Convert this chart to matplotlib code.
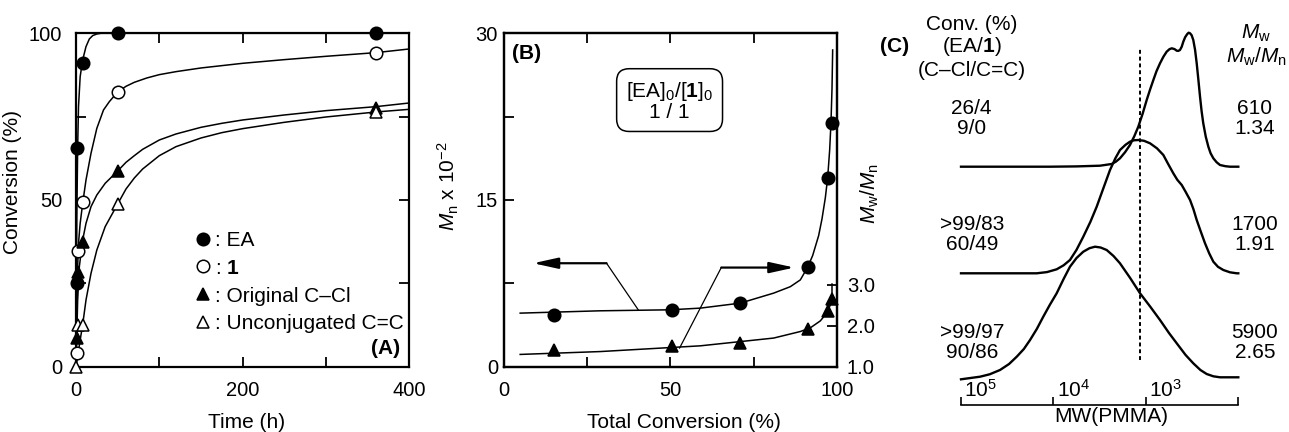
import matplotlib
matplotlib.use("Agg")
import matplotlib.pyplot as plt

plt.rcParams['font.family'] = ['Liberation Sans', 'DejaVu Sans']
plt.rcParams['font.size'] = 15
plt.rcParams['mathtext.fontset'] = 'custom'
plt.rcParams['mathtext.rm'] = 'Liberation Sans'
plt.rcParams['mathtext.it'] = 'Liberation Sans:italic'
plt.rcParams['mathtext.bf'] = 'Liberation Sans:bold'

# ---- panel A: conversion vs time ----
time_ea = [1, 1, 9, 50, 360]
conv_ea = [25, 65.5, 91, 100, 100]
time_1 = [1, 2, 9, 50, 360]
conv_1 = [4, 34.7, 49.5, 82.4, 94.2]
time_ccl = [1, 2, 9, 50, 360]
conv_ccl = [8.7, 28.5, 37.5, 58.7, 77.5]
time_cc = [0, 2, 9, 50, 360]
conv_cc = [0, 12.6, 12.6, 48.8, 76.3]

# fitted lines drawn through the points
fit_t_ea = [0, 0.5, 1, 2, 3, 5, 8, 12, 16, 20, 25, 30, 400]
fit_ea = [0, 25, 45, 66, 78, 87, 92, 96, 98.3, 99.3, 99.8, 100, 100]
fit_t_1 = [0, 1, 2, 3, 5, 8, 12, 18, 25, 33, 40, 50, 60, 70, 85, 100, 120, 150, 175, 200, 250, 300, 360, 400]
fit_1 = [0, 15, 30, 37, 43, 49, 56, 64, 71.5, 77, 79.5, 82.4, 84.1, 85.3, 86.6, 87.6, 88.5, 89.6, 90.3,
         91.0, 92.1, 93.1, 94.2, 95.3]
fit_t_ccl = [0, 1, 2, 4, 8, 12, 18, 25, 35, 50, 60, 70, 80, 100, 120, 150, 175, 200, 250, 300, 360, 400]
fit_ccl = [0, 10, 20, 30, 38, 43, 48, 51.5, 55, 58.7, 61.3, 63.3, 65.2, 68.0, 69.8, 71.8, 73.0, 74.0,
           75.5, 76.8, 78.0, 79.1]
fit_t_cc = [0, 2, 5, 8, 12, 18, 25, 35, 50, 60, 70, 80, 100, 120, 150, 175, 200, 250, 300, 360, 400]
fit_cc = [0, 3, 8, 12.6, 20, 28, 35, 42, 48.8, 53.3, 56.6, 59.3, 63.3, 66.0, 68.6, 70.2, 71.4, 73.3,
          74.9, 76.4, 77.2]

# ---- panel B: Mn and Mw/Mn vs total conversion ----
conv_b = [15, 50.5, 71, 91.2, 97.2, 98.5]
mn_b = [4.67, 5.12, 5.72, 8.95, 16.95, 21.95]
pdi_b = [1.40, 1.50, 1.58, 1.92, 2.35, 2.65]
fit_conv_mn = [5, 29, 50, 59, 71, 81, 86, 89, 91.2, 92.7, 94.5, 95.5, 96.5, 97.2, 97.8, 98.2, 98.5, 98.7]
fit_mn = [4.82, 5.03, 5.12, 5.27, 5.72, 6.62, 7.2, 7.81, 8.95, 10.0, 11.8, 13.3, 15.2, 17.0, 19.5, 22.0, 25.0, 28.5]
fit_conv_pdi = [5, 29, 59, 81, 89, 92, 95, 97, 98.2, 98.5, 98.5]
fit_pdi = [1.30, 1.37, 1.51, 1.70, 1.86, 1.95, 2.12, 2.32, 2.55, 2.65, 3.02]

# ---- panel C: SEC curves (log MW, height above baseline) ----
sec1_logmw = [5.0, 4.037, 3.75, 3.496, 3.370, 3.325, 3.280, 3.225, 3.172, 3.125, 3.082, 3.035, 2.991,
              2.955, 2.919, 2.885, 2.847, 2.81, 2.775, 2.745, 2.720, 2.69, 2.666, 2.65, 2.631, 2.612,
              2.595, 2.575, 2.552, 2.537, 2.522, 2.505, 2.487, 2.468, 2.450, 2.432, 2.414, 2.397,
              2.379, 2.352, 2.324, 2.30, 2.270, 2.235, 2.198, 2.14, 2.089, 2.0]
sec1_h = [0, 0, 0.3, 1, 2.7, 5, 8.4, 14.5, 21.7, 30.5, 40, 53, 66.7,
          77, 86.7, 95.5, 103.4, 110, 115, 117.5, 118.4, 117.6, 116, 115.8, 116.7, 120,
          125, 129.5, 132.7, 134, 133.4, 131.5, 126.7, 117, 103.4, 87, 70, 55.5,
          43.4, 30, 20, 13.5, 8.4, 4.5, 1.7, 0.5, 0, 0]
sec2_logmw = [5.0, 4.181, 4.07, 3.965, 3.89, 3.821, 3.75, 3.677, 3.60, 3.532, 3.46, 3.388, 3.33, 3.280,
              3.22, 3.172, 3.13, 3.082, 3.02, 2.955, 2.88, 2.811, 2.76, 2.703, 2.66, 2.612, 2.57,
              2.522, 2.485, 2.450, 2.405, 2.360, 2.315, 2.270, 2.22, 2.162, 2.09, 2.017, 2.0]
sec2_h = [0, 0, 1.2, 4, 8, 13.3, 23.5, 36.6, 51.5, 66.6, 85, 103.3, 115, 123.3,
          128.5, 131.6, 133, 133.3, 132.5, 130, 125, 118.3, 109.5, 100, 93.5, 88.3, 81.5,
          73.3, 64, 53.3, 41.5, 30, 20, 11.6, 6.5, 3.3, 1, 0, 0]
sec3_logmw = [5.0, 4.794, 4.69, 4.578, 4.48, 4.397, 4.32, 4.253, 4.18, 4.110, 4.04, 3.965, 3.89, 3.821,
              3.75, 3.677, 3.61, 3.550, 3.49, 3.424, 3.35, 3.280, 3.17, 3.063, 2.95, 2.847, 2.75,
              2.666, 2.57, 2.487, 2.41, 2.342, 2.27, 2.198, 2.0]
sec3_h = [-1.8, 0.8, 3.2, 7.5, 13.5, 20.8, 28.5, 37.5, 48.5, 60.8, 72.5, 84.2, 98.5, 110.8,
          119.5, 125.8, 129.3, 130.8, 130.0, 127.5, 121.5, 114.2, 99.5, 84.2, 70.5, 57.5, 44.5,
          34.2, 22.5, 14.2, 7.5, 3.5, 1.2, 0.2, 0.2]
conv_labels = [["26/4", "9/0"], [">99/83", "60/49"], [">99/97", "90/86"]]
mw_labels = [["610", "1.34"], ["1700", "1.91"], ["5900", "2.65"]]

W, H = 1289, 432
fig = plt.figure(figsize=(W / 100, H / 100), dpi=100)


def rect(l, t, r, b):
    return [l / W, (H - b) / H, (r - l) / W, (b - t) / H]


def ftext(x, y, s, **kw):
    fig.text(x / W, 1 - y / H, s, ha='center', va='center', **kw)


tick_kw = dict(direction='in', length=7, width=1.3, labelsize=14.5)
mk = dict(ms=9, mec='black', mew=1.1, ls='none', clip_on=False, zorder=5)

# ---------- (A) ----------
ax = fig.add_axes(rect(76, 33.3, 409.3, 366.7))
for tt, cc in [(fit_t_ea, fit_ea), (fit_t_1, fit_1), (fit_t_ccl, fit_ccl), (fit_t_cc, fit_cc)]:
    ax.plot(tt, cc, color='black', lw=1.1)
ax.plot(time_ea, conv_ea, marker='o', mfc='black', label=': EA', **mk)
ax.plot(time_1, conv_1, marker='o', mfc='white', label=r': $\mathbf{1}$', **mk)
ax.plot(time_ccl, conv_ccl, marker='^', mfc='black', label=': Original C\u2013Cl', **mk)
ax.plot(time_cc, conv_cc, marker='^', mfc='white', label=': Unconjugated C=C', **mk)
ax.set_xlim(0, 400)
ax.set_ylim(0, 100)
ax.set_xticks([0, 100, 200, 300, 400], ['0', '', '200', '', '400'])
ax.set_yticks([0, 25, 50, 75, 100], ['0', '', '50', '', '100'])
ax.tick_params(top=True, right=True, **tick_kw)
ax.tick_params(axis='x', pad=10)
ax.tick_params(axis='y', pad=10)
for s in ax.spines.values():
    s.set_linewidth(1.6)
ax.set_xlabel('Time (h)', fontsize=15)
ax.set_ylabel('Conversion (%)', fontsize=15)
ax.xaxis.set_label_coords(0.513, -0.14)
ax.yaxis.set_label_coords(-0.163, 0.555)
ax.legend(loc='upper left', bbox_to_anchor=(0.351, 0.407), frameon=False, fontsize=15,
          handlelength=1.0, handletextpad=0.05, labelspacing=0.42, borderpad=0, borderaxespad=0,
          markerscale=1.0)
ax.text(0.973, 0.056, '(A)', transform=ax.transAxes, ha='right', va='center',
        fontsize=15, fontweight='bold')

# ---------- (B) ----------
bx = fig.add_axes(rect(503.5, 33.3, 837, 366.7))
bx2 = bx.twinx()
bx.plot(fit_conv_mn, fit_mn, color='black', lw=1.1)
bx.plot(conv_b, mn_b, marker='o', mfc='black', **mk)
bx2.plot(fit_conv_pdi, fit_pdi, color='black', lw=1.1)
bx2.plot(conv_b, pdi_b, marker='^', mfc='black', **mk)
bx.set_xlim(0, 100)
bx.set_ylim(0, 30)
bx2.set_ylim(1.0, 9.15)
bx.set_xticks([0, 25, 50, 75, 100], ['0', '', '50', '', '100'])
bx.set_yticks([0, 7.5, 15, 22.5, 30], ['0', '', '15', '', '30'])
bx2.set_yticks([1, 2, 3], ['1.0', '2.0', '3.0'])
bx.tick_params(top=True, right=False, **tick_kw)
bx.tick_params(axis='x', pad=10)
bx.tick_params(axis='y', pad=4)
bx2.tick_params(pad=7, **tick_kw)
for s in list(bx.spines.values()) + list(bx2.spines.values()):
    s.set_linewidth(1.6)
bx.set_xlabel('Total Conversion (%)', fontsize=15)
bx.set_ylabel(r'$M_\mathrm{n}\ \mathrm{x}\ 10^{-2}$', fontsize=15)
bx.xaxis.set_label_coords(0.54, -0.14)
bx.yaxis.set_label_coords(-0.127, 0.54)
bx2.set_ylabel(r'$M_\mathrm{w}/M_\mathrm{n}$', fontsize=15)
bx2.yaxis.set_label_coords(1.066, 0.52)
bx.text(0.025, 0.94, '(B)', transform=bx.transAxes, ha='left', va='center',
        fontsize=15, fontweight='bold')
bx.text(49.8, 23.9, '[EA]$_\\mathrm{0}$/[$\\mathbf{1}$]$_\\mathrm{0}$\n1 / 1', ha='center', va='center',
        fontsize=15, linespacing=1.0,
        bbox=dict(boxstyle='round,pad=0.45,rounding_size=0.6', fc='white', ec='black', lw=1.1))
# arrows pointing to each axis
arrow = dict(arrowstyle='-|>,head_length=1.0,head_width=0.22', color='black', lw=1.6,
             shrinkA=0, shrinkB=0)
bx.annotate('', xy=(8.9, 9.31), xytext=(30.9, 9.31), arrowprops=arrow)
bx.plot([30.9, 40.4], [9.31, 5.12], color='black', lw=0.9)
bx.annotate('', xy=(87.2, 8.92), xytext=(65.3, 8.92), arrowprops=arrow)
bx.plot([65.3, 52.8], [8.92, 1.68], color='black', lw=0.9)

# ---------- (C) ----------
cx = fig.add_axes(rect(961, 30, 1238.3, 405))
cx.set_xlim(5, 2)
cx.set_ylim(0, 375)
base = [238.3, 131.7, 27.5]
for lm, hh, b0 in [(sec1_logmw, sec1_h, base[0]), (sec2_logmw, sec2_h, base[1]),
                   (sec3_logmw, sec3_h, base[2])]:
    cx.plot(lm, [b0 + v for v in hh], color='black', lw=1.7, clip_on=False)
cx.vlines(3.063, 45, 355.7, color='black', lw=1.4, linestyles=(0, (2.0, 1.5)))
for s in ['top', 'left', 'right']:
    cx.spines[s].set_visible(False)
cx.spines['bottom'].set_linewidth(1.2)
cx.set_yticks([])
cx.set_xticks([5, 4, 3, 2], ['', '', '', ''])
cx.tick_params(axis='x', direction='in', length=6, width=1.2)
for lm, lab in [(5, '$10^5$'), (4, '$10^4$'), (3, '$10^3$')]:
    cx.text(lm - 0.035, 4, lab, ha='left', va='bottom', fontsize=15)
ftext(1111.5, 416, 'MW(PMMA)', fontsize=15)

ftext(895, 47, '(C)', fontsize=15, fontweight='bold')
ftext(971.7, 25, 'Conv. (%)', fontsize=15)
ftext(971.7, 47, r'(EA/$\mathbf{1}$)', fontsize=15)
ftext(971.7, 70, '(C\u2013Cl/C=C)', fontsize=15)
ftext(1256, 33, r'$M_\mathrm{w}$', fontsize=15)
ftext(1256, 57, r'$M_\mathrm{w}/M_\mathrm{n}$', fontsize=15)
rows = [(108, 129), (224, 245), (332, 353)]
for (y1, y2), cl, ml in zip(rows, conv_labels, mw_labels):
    ftext(971.7, y1, cl[0], fontsize=15)
    ftext(971.7, y2, cl[1], fontsize=15)
    ftext(1255, y1, ml[0], fontsize=15)
    ftext(1255, y2, ml[1], fontsize=15)

fig.savefig('out.png', dpi=100)
